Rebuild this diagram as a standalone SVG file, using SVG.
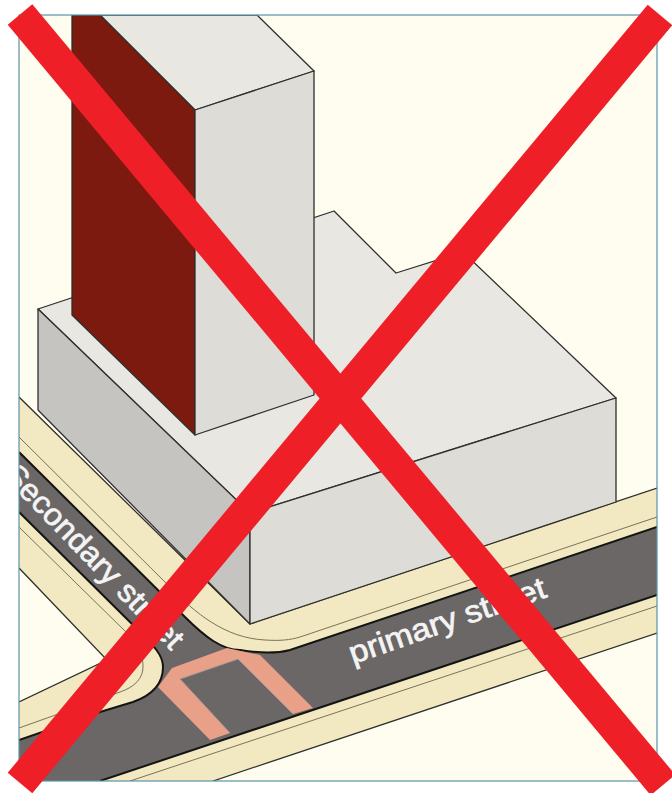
<svg xmlns="http://www.w3.org/2000/svg" width="672" height="793" viewBox="0 0 672 793">
<style>
.e{stroke:#2f2f2c;stroke-width:1.3;stroke-linejoin:round}
.o{fill:none;stroke:#2f2f2c;stroke-width:1.3}
.t{fill:none;stroke:#77745a;stroke-width:1}
.c{fill:none;stroke:#141412;stroke-width:2}
.l{fill:#f4f4f4;stroke:#f4f4f4;stroke-width:.7;font-family:"Liberation Sans",Arial,sans-serif;font-size:31px}
.x{stroke:#ee1f27;stroke-width:32;fill:none}
</style>
<defs><clipPath id="f"><rect x="19" y="15" width="638" height="766"/></clipPath></defs>
<rect width="672" height="793" fill="#fff"/>
<g clip-path="url(#f)">
<rect id="ground" x="19" y="15" width="638" height="766" fill="#fefdf0"/>
<g id="sidewalk">
<path d="M19 397L250 624L657 488V633L213 781H19V702L107 660L19 568Z" fill="#f2e8c1"/>
<path class="t" d="M19 437L170 587C195 613 225 638 265 640C280 641 290 640 300 637L657 517"/>
<path class="t" d="M19 527L127 633C140 647 143 655 143 667C143 678 135 687 120 692L19 728"/>
<path class="t" d="M657 606L130 781"/>
<path class="o" d="M19 397L250 624M250 624L657 488M657 633L213 781M19 702L107 660L19 568"/>
</g>
<g id="road">
<path d="M19 452L185 617C205 637 222 650 240 650C258 653 275 654 290 650L657 527V595L100 781H19V740L100 712L133 702C150 696 163 685 163 667C163 655 155 647 133 625L19 512Z" fill="#6b6767"/>
<path class="c" d="M19 452L185 617C205 637 222 650 240 650C258 653 275 654 290 650L657 527M657 595L100 781M19 740L100 712L133 702C150 696 163 685 163 667C163 655 155 647 133 625L19 512"/>
</g>
<g id="crosswalk">
<path d="M158 687L172 668L227 648L260 655L313 708L293 714L238 659L180 679L230 733L210 740Z" fill="#e8a088"/>
<path d="M293 714L238 659L180 679L230 733" fill="none" stroke="#a99a92" stroke-width="1"/>
</g>
<g id="labels">
<text class="l" transform="translate(2 476) rotate(46) scale(1.04 1)">Secondary street</text>
<text class="l" transform="translate(353 664) rotate(-19) scale(1.09 1)">primary street</text>
</g>
<g id="podium">
<path class="e" d="M38 309L334 211L396 273L463 252L616 398L250 513Z" fill="#e9e7e2"/>
<path class="e" d="M38 309L250 513V624L38 410Z" fill="#c6c4c1"/>
<path class="e" d="M250 513L616 398V502L250 624Z" fill="#dedcd7"/>
</g>
<g id="tower">
<path class="e" d="M100 15H257L314 71L195 110Z" fill="#e9e7e2"/>
<path class="e" d="M72 15H100L195 110V435L72 315Z" fill="#7c1a10"/>
<path class="e" d="M195 110L314 71V395L195 435Z" fill="#dedcd7"/>
</g>
</g>
<rect id="frame" x="19" y="15" width="638" height="766" fill="none" stroke="#5b93a8" stroke-width="1.2"/>
<g id="cross">
<line class="x" x1="20" y1="14.5" x2="663" y2="785"/>
<line class="x" x1="660" y1="15" x2="20" y2="783"/>
</g>
</svg>
